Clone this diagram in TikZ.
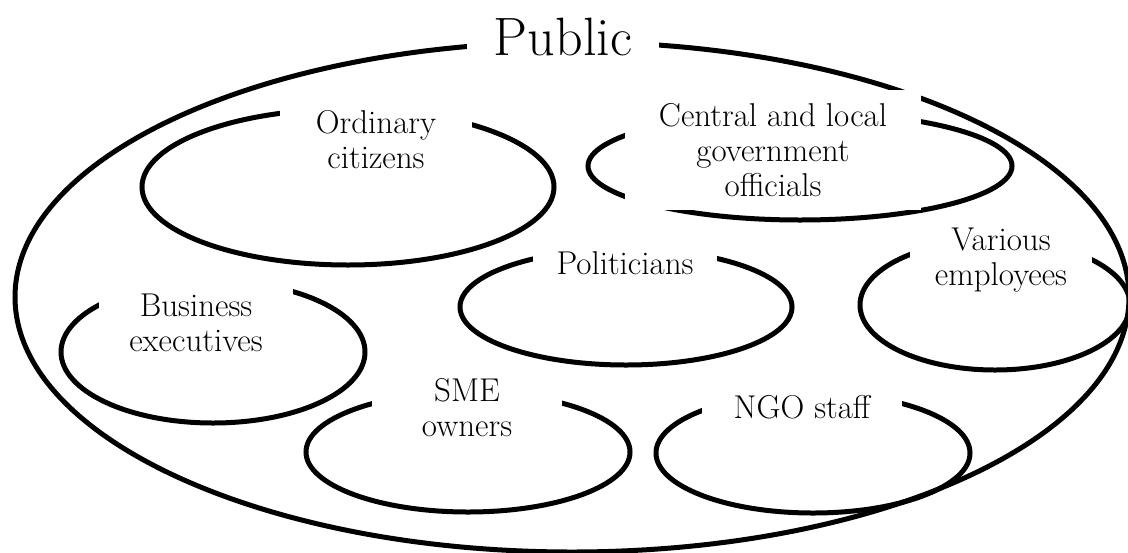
\documentclass[tikz,border=0pt]{standalone}
\usepackage{tikz}
\usetikzlibrary{shapes.geometric}

\begin{document}
\begin{tikzpicture}[x=0.5pt,y=-0.5pt,
    grp/.style={ellipse,draw,line width=2.5pt,inner sep=0pt},
    lbl/.style={fill=white,align=center,inner sep=0pt,font=\fontsize{16.5}{17.5}\selectfont}]
    \useasboundingbox (0,0) rectangle (1128,552);
    % groups
    \node[grp,minimum width=557pt,minimum height=255pt] (public) at (572,297) {};
    \node[grp,minimum width=206pt,minimum height=78pt] (citizens) at (348,187) {};
    \node[grp,minimum width=212pt,minimum height=54pt] (officials) at (800,166) {};
    \node[grp,minimum width=166pt,minimum height=58pt] (politicians) at (626,307) {};
    \node[grp,minimum width=135pt,minimum height=65pt] (employees) at (995,305) {};
    \node[grp,minimum width=152pt,minimum height=71pt] (executives) at (213,352) {};
    \node[grp,minimum width=162pt,minimum height=60pt] (owners) at (468,452) {};
    \node[grp,minimum width=157pt,minimum height=60pt] (ngo) at (813,453) {};
    % labels
    \node[lbl,minimum width=96pt,minimum height=25pt,font=\fontsize{27}{30}\selectfont] (lpublic) at (563,37) {Public};
    \node[lbl,minimum width=96pt,minimum height=40pt] (lcitizens) at (376,140) {Ordinary\\citizens};
    \node[lbl,minimum width=148pt,minimum height=60pt] (lofficials) at (773,150) {Central and local\\government\\officials};
    \node[lbl,minimum width=92pt,minimum height=23pt] (lpoliticians) at (625,263) {Politicians};
    \node[lbl,minimum width=91pt,minimum height=40pt] (lemployees) at (1001,260) {Various\\employees};
    \node[lbl,minimum width=97pt,minimum height=50pt] (lexecutives) at (196,323) {Business\\executives};
    \node[lbl,minimum width=95pt,minimum height=38pt] (lowners) at (467,408) {SME\\owners};
    \node[lbl,minimum width=100pt,minimum height=32pt] (lngo) at (802,407) {NGO staff};
\end{tikzpicture}
\end{document}
